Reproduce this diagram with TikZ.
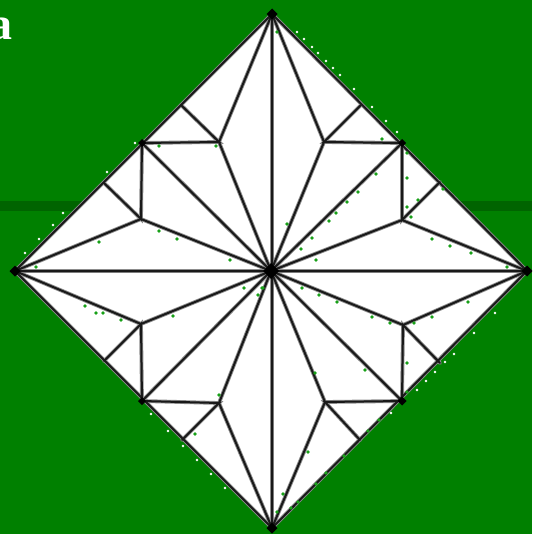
\documentclass[tikz,border=0pt]{standalone}
\usepackage{fontspec}
\usetikzlibrary{calc}
\setmainfont{Liberation Serif}
\definecolor{bggreen}{HTML}{008000}
\definecolor{bandgreen}{HTML}{006400}
\definecolor{dotgreen}{HTML}{18A018}
\tikzset{
  crease/.style={draw=black!90,line width=2pt,line cap=round},
  creaseblur/.style={draw=black!45,line width=3.8pt,line cap=round},
  label a/.style={text=white,font=\bfseries\fontsize{46pt}{46pt}\selectfont,anchor=base,inner sep=0pt}
}
\begin{document}
\begin{tikzpicture}[x=1pt,y=-1pt]
\useasboundingbox (0,0) rectangle (532,534);
\clip (0,0) rectangle (532,534);
\fill[bggreen] (0,0) rectangle (532,534);
\fill[bandgreen] (0,201) rectangle (532,211);
\node[label a] (lbl) at (1,40) {a};
% vertices
\coordinate (T) at (272,14); \coordinate (L) at (15,271);
\coordinate (R) at (527,271); \coordinate (B) at (272,528);
\coordinate (C) at (271,271);
\coordinate (TL) at (142,143); \coordinate (TR) at (402,143);
\coordinate (BL) at (142,401); \coordinate (BR) at (402,401);
\coordinate (a1) at (219,142); \coordinate (a2) at (141,219);
\coordinate (b1) at (324,142); \coordinate (b2) at (402,220);
\coordinate (c1) at (141,324); \coordinate (c2) at (219,403);
\coordinate (d1) at (403,325); \coordinate (d2) at (325,402);
\coordinate (e1) at (181,105); \coordinate (e2) at (104,183);
\coordinate (f1) at (361,105); \coordinate (f2) at (440,182);
\coordinate (g1) at (104,361); \coordinate (g2) at (182,440);
\coordinate (h1) at (440,363); \coordinate (h2) at (360,440);
\fill[white] (T)--(R)--(B)--(L)--cycle;
\foreach \s in {creaseblur,crease}{
  \path[\s] (T)--(R)--(B)--(L)--cycle;
  \path[\s] (T)--(B) (L)--(R) (TL)--(C) (TR)--(C) (BL)--(C) (BR)--(C);
  \path[\s] (T)--(a1)--(C) (L)--(a2)--(C) (T)--(b1)--(C) (R)--(b2)--(C);
  \path[\s] (L)--(c1)--(C) (B)--(c2)--(C) (R)--(d1)--(C) (B)--(d2)--(C);
  \path[\s] (TL)--(a1)--(e1) (TL)--(a2)--(e2);
  \path[\s] (TR)--(b1)--(f1) (TR)--(b2)--(f2);
  \path[\s] (BL)--(c1)--(g1) (BL)--(c2)--(g2);
  \path[\s] (BR)--(d1)--(h1) (BR)--(d2)--(h2);
}
\foreach \p/\r in {C/8,T/5.5,L/5.5,R/5.5,B/5.5,TL/4,TR/4,BL/4,BR/4.5}{
  \fill[black] ($(\p)+(-\r,0)$)--($(\p)+(0,-\r)$)--($(\p)+(\r,0)$)--($(\p)+(0,\r)$)--cycle;
}
\foreach \x/\y in {277/32,159/146,216/146,159/231,177/239,230/260,99/242,36/267,
  302/288,319/295,337/302,372/317,390/323,414/323,432/317,468/302,507/267,
  407/363,407/392,365/370,315/373,263/288,379/420,368/431,344/456,326/473,316/484,
  308/452,283/494,298/502,291/508,277/512,
  382/139,407/153,407/178,418/200,407/207,411/217,443/189,432/239,450/246,471/253,
  376/174,358/192,347/202,336/213,329/221,312/238,301/249,316/260,287/224,
  85/306,96/313,103/313,121/320,173/316,244/288,262/288,258/295,219/395,195/434}{
  \fill[dotgreen] (\x,\y) circle (1.8);
}
\foreach \x/\y in {135/143,107/172,63/213,53/225,39/239,25/253,
  297/32,304/39,312/47,318/53,326/61,333/68,340/75,354/89,372/107,386/121,397/132,
  151/414,168/431,183/446,197/460,211/474,225/488,
  391/413,417/390,426/381,435/372,445/362,454/354,474/333,495/313}{
  \fill[white] (\x,\y) circle (1.3);
}
\end{tikzpicture}
\end{document}
